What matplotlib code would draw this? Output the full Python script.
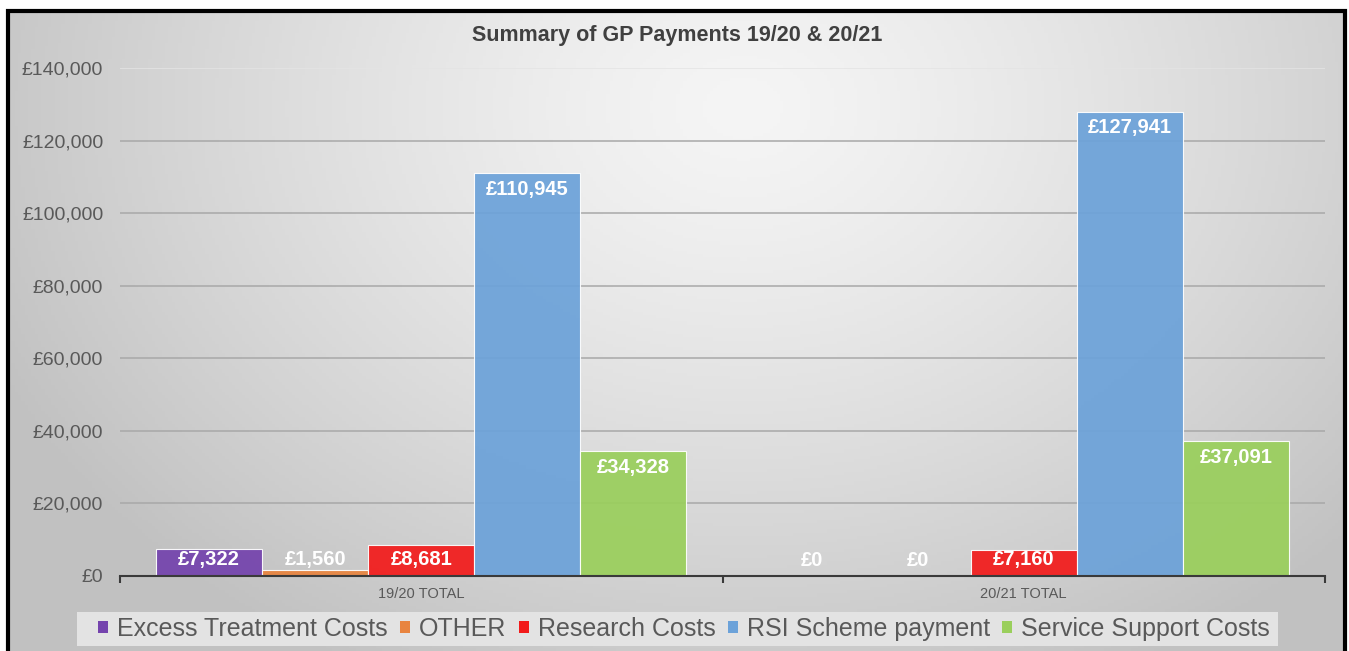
import numpy as np
import matplotlib.pyplot as plt
from matplotlib.patches import Rectangle, Patch
from matplotlib.ticker import FuncFormatter

# GP payment summary by financial year
periods = ['19/20 TOTAL', '20/21 TOTAL']
series = ['Excess Treatment Costs', 'OTHER', 'Research Costs',
          'RSI Scheme payment', 'Service Support Costs']
excess_treatment = [7322, 0]
other = [1560, 0]
research = [8681, 7160]
rsi_scheme = [110945, 127941]
service_support = [34328, 37091]
colors = ['#7443ad', '#e8843f', '#f21b1b', '#6ca2d9', '#9acf5c']

values = [excess_treatment, other, research, rsi_scheme, service_support]

W, H = 1349, 651
fig = plt.figure(figsize=(W / 100, H / 100), dpi=100, facecolor='white')
plt.rcParams['font.family'] = ['Liberation Sans', 'DejaVu Sans']

# grey radial backdrop inside the black frame
bg = fig.add_axes([8 / W, 0, (1345 - 8) / W, (H - 11) / H], zorder=0)
gx, gy = np.meshgrid(np.linspace(0, 1, 400), np.linspace(0, 1, 200))
r = np.sqrt(((gx - 0.55) / 0.62) ** 2 + ((gy - 0.15) / 1.0) ** 2)
shade = (245 - 52 * np.clip(r, 0, 1) ** 1.3) / 255
bg.imshow(np.dstack([shade] * 3), aspect='auto', extent=(0, 1, 1, 0))
bg.axis('off')
fig.patches.append(Rectangle((8 / W, -0.05), (1345 - 8) / W, 1.05 - 11 / H,
                             transform=fig.transFigure, fill=False,
                             edgecolor='black', linewidth=3.0, zorder=5))

ax = fig.add_axes([120 / W, 1 - 576 / H, (1325 - 120) / W, (576 - 68) / H],
                  zorder=1)
ax.patch.set_alpha(0)

x = np.arange(len(periods))
bw = 0.176
ymax = 140000
lab_off = 16 / ((576 - 68) / ymax)  # 16 px in data units

for i, (name, vals, c) in enumerate(zip(series, values, colors)):
    xs = x + (i - 2) * bw
    ax.bar(xs, vals, width=bw, color=c, alpha=0.93, zorder=2, label=name,
           linewidth=0.8, edgecolor=(1, 1, 1, 0.4))
    for xi, v in zip(xs, vals):
        ly = max(v - lab_off, lab_off)
        ax.text(xi, ly, '£{:,}'.format(v), ha='center', va='center',
                color='white', fontsize=14.5, fontweight='bold', zorder=4)

ax.set_xlim(-0.5, 1.5)
ax.set_ylim(0, ymax)
ax.set_yticks(np.arange(0, ymax + 1, 20000))
ax.yaxis.set_major_formatter(FuncFormatter(lambda v, p: '£{:,.0f}'.format(v)))
for gyv in np.arange(20000, ymax, 20000):
    ax.axhline(gyv, color='#a8a8a8', linewidth=1.1, zorder=1)
ax.axhline(ymax, color='#e4e4e4', linewidth=1.1, zorder=1)

for s in ['top', 'right', 'left']:
    ax.spines[s].set_visible(False)
ax.spines['bottom'].set_color('#3a3a3a')
ax.spines['bottom'].set_linewidth(1.5)
ax.tick_params(axis='y', length=0, pad=12, labelsize=14, labelcolor='#595959')

ax.set_xticks([-0.5, 0.5, 1.5])
ax.set_xticklabels([])
ax.tick_params(axis='x', length=5, width=1.5, color='#3a3a3a')
for xi, p in zip(x, periods):
    ax.annotate(p, (xi, 0), xytext=(0, -13), textcoords='offset points',
                ha='center', va='center', fontsize=10.5, color='#595959')

fig.text(677 / W, 1 - 35 / H, 'Summary of GP Payments 19/20 & 20/21',
         ha='center', va='center', fontsize=15.5, fontweight='bold',
         color='#404040')

# legend strip along the bottom
fig.patches.append(Rectangle((77 / W, 1 - 646 / H), (1278 - 77) / W, 34 / H,
                             transform=fig.transFigure, facecolor='#e3e3e3',
                             edgecolor='none', zorder=2))
handles = [Patch(facecolor=c, edgecolor='none') for c in colors]
leg = fig.legend(handles, series, loc='center',
                 bbox_to_anchor=(684 / W, 1 - 629 / H), ncol=5, fontsize=18,
                 frameon=False, handlelength=0.4, handleheight=0.4,
                 handletextpad=0.35, columnspacing=0.5,
                 borderpad=0, borderaxespad=0)
leg.set_zorder(6)
for t in leg.get_texts():
    t.set_color('#595959')

fig.savefig('out.png', dpi=100, facecolor='white')
